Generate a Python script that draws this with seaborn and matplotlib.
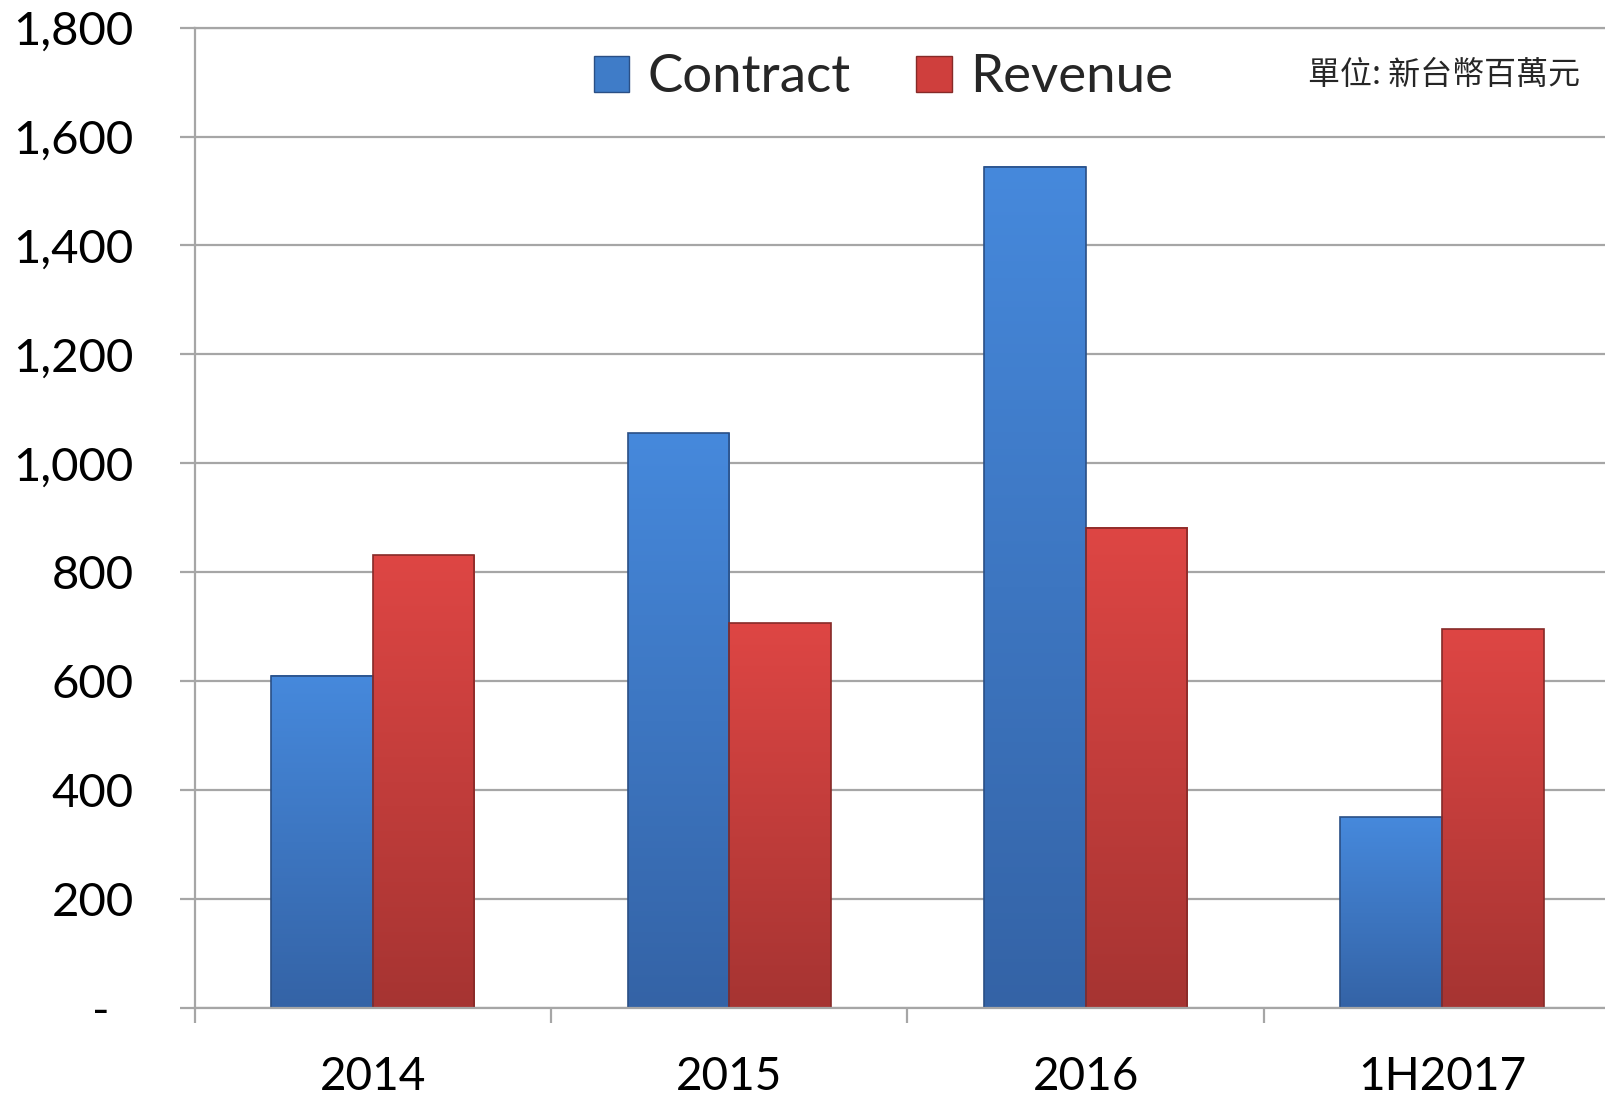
import numpy as np
import pandas as pd
import matplotlib.pyplot as plt
import seaborn as sns
from matplotlib.colors import LinearSegmentedColormap
from matplotlib.ticker import FuncFormatter

periods = ['2014', '2015', '2016', '1H2017']
contract = [610, 1055, 1545, 350]
revenue = [831, 706, 882, 695]
series = ['Contract', 'Revenue']

df = pd.DataFrame({
    'period': periods * 2,
    'value': contract + revenue,
    'series': ['Contract'] * 4 + ['Revenue'] * 4,
})

sns.set_theme(style='white')
plt.rcParams['font.family'] = ['Lato', 'Noto Sans CJK TC', 'DejaVu Sans']

grid_col = '#A6A6A6'
palette = {'Contract': '#3F7CC8', 'Revenue': '#CF3F3D'}
# (bottom, top) colours of the gradient fill
grads = {'Contract': ('#3463A6', '#4689DC'), 'Revenue': ('#A63432', '#DE4644')}
edges = {'Contract': '#2A4F85', 'Revenue': '#862A28'}

fig = plt.figure(figsize=(16.06, 10.99), dpi=100)
ax = fig.add_axes([0.1212, 0.083, 0.8788, 0.8918])

sns.barplot(data=df, x='period', y='value', hue='series', hue_order=series,
            palette=palette, width=0.57, saturation=1, ax=ax)

# gradient fill clipped to each bar
for container, name in zip(ax.containers, series):
    cmap = LinearSegmentedColormap.from_list(name, list(grads[name]))
    for bar in container:
        x0, y0 = bar.get_x(), bar.get_y()
        w, h = bar.get_width(), bar.get_height()
        ax.imshow(np.linspace(0, 1, 256).reshape(-1, 1), cmap=cmap, origin='lower',
                  extent=[x0, x0 + w, y0, y0 + h], aspect='auto',
                  zorder=bar.get_zorder(), clip_path=bar, clip_on=True)
        bar.set_facecolor('none')
        bar.set_edgecolor(edges[name])
        bar.set_linewidth(1.2)
        bar.set_zorder(bar.get_zorder() + 0.1)

ax.set_ylim(0, 1800)
ax.set_xlim(-0.5, 3.46)
ax.set_yticks(range(0, 1801, 200))
ax.yaxis.set_major_formatter(FuncFormatter(lambda v, _: '-  ' if v == 0 else f'{int(v):,}'))
ax.set_xlabel('')
ax.set_ylabel('')

ax.yaxis.grid(True, color=grid_col, linewidth=1.6)
ax.set_axisbelow(True)
ax.spines['right'].set_visible(False)
for side in ['left', 'bottom', 'top']:
    ax.spines[side].set_color(grid_col)
    ax.spines[side].set_linewidth(1.6)

ax.tick_params(axis='y', left=True, length=11, width=1.6, color=grid_col,
               pad=33, labelsize=34, labelcolor='black')
ax.set_xticks(range(len(periods)))
ax.set_xticklabels(periods)
ax.tick_params(axis='x', which='major', length=0, pad=35, labelsize=33, labelcolor='black')
ax.set_xticks([-0.5, 0.5, 1.5, 2.5], minor=True)
ax.tick_params(axis='x', which='minor', bottom=True, length=11, width=1.6, color=grid_col)

handles, labels = ax.get_legend_handles_labels()
for hnd, name in zip(handles, series):
    hnd.set_facecolor(palette[name])
    hnd.set_edgecolor(edges[name])
ax.legend(handles, labels, loc='center', bbox_to_anchor=(0.488, 0.949), ncol=2,
          frameon=False, fontsize=38, handlelength=0.68, handleheight=0.68,
          handletextpad=0.34, columnspacing=1.25)

fig.text(0.984, 0.932, '單位: 新台幣百萬元', ha='right', va='center', fontsize=23,
         family=['Noto Sans CJK TC', 'DejaVu Sans'])

fig.savefig('out.png', dpi=100)
